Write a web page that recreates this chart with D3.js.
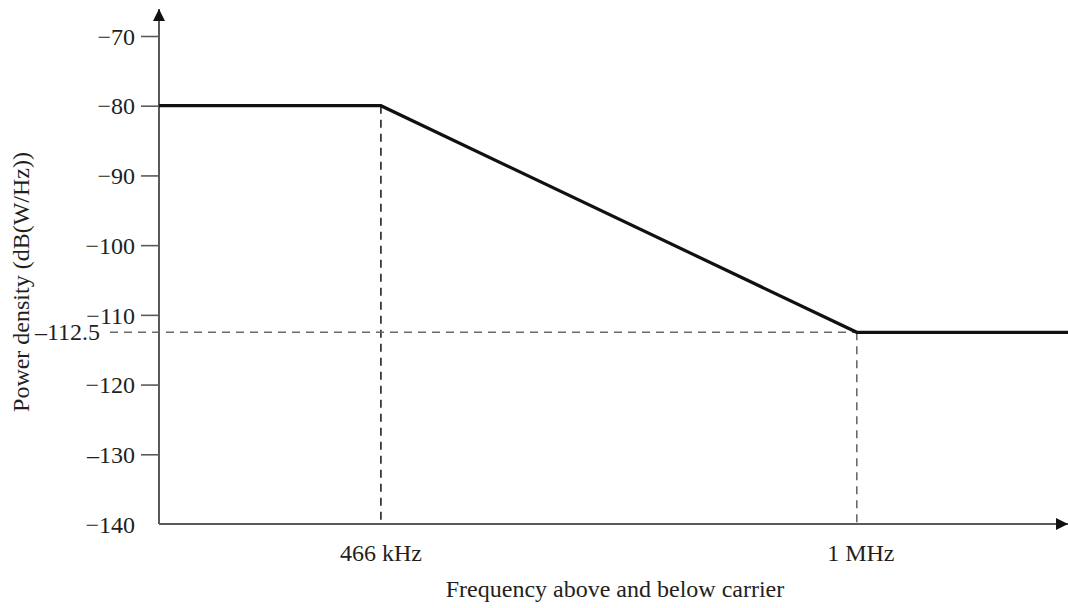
<!DOCTYPE html>
<html>
<head>
<meta charset="utf-8">
<script src="https://cdn.jsdelivr.net/npm/d3@7"></script>
<style>
  html, body { margin: 0; padding: 0; background: #fff; }
  svg { display: block; }
  text { font-family: "Liberation Serif", "Times New Roman", serif; fill: #231f20; }
</style>
</head>
<body>
<svg id="chart" width="1068" height="608"></svg>
<script>
// Spectrum mask: power density vs. offset from carrier
const freqKHz = [217, 466, 1000, 1237];          // breakpoints along the frequency axis
const powerDb = [-80, -80, -112.5, -112.5];      // mask level at each breakpoint
const yTicks = [-70, -80, -90, -100, -110, -120, -130, -140];
const yTickLabels = ["\u221270", "\u221280", "\u221290", "\u2212100", "\u2212110", "\u2212120", "\u2013130", "\u2212140"];
const xMarks = [466, 1000];
const xMarkLabels = ["466 kHz", "1 MHz"];
const cornerLevel = -112.5;
const cornerLabel = "\u2013112.5";

const svg = d3.select("#chart");
const x = d3.scaleLinear().domain([217, 1237]).range([159, 1068]);
const y = d3.scaleLinear().domain([-140, -70]).range([524, 36]);

const axisColor = "#5a5a5a";
const fontSize = 24;

// arrowheads
const defs = svg.append("defs");
defs.append("marker")
  .attr("id", "arrow").attr("viewBox", "0 0 10 10")
  .attr("refX", 10).attr("refY", 5)
  .attr("markerWidth", 12).attr("markerHeight", 12)
  .attr("markerUnits", "userSpaceOnUse")
  .attr("orient", "auto")
  .append("path").attr("d", "M0,0L10,5L0,10Z").attr("fill", "#111");

// reference dashes
const dash = svg.append("g").attr("fill", "none").attr("stroke-width", 1.6);
dash.append("line")
  .attr("x1", x(xMarks[0])).attr("x2", x(xMarks[0]))
  .attr("y1", y(powerDb[1])).attr("y2", y(-140))
  .attr("stroke", "#222").attr("stroke-dasharray", "8,6");
dash.append("line")
  .attr("x1", x(xMarks[1])).attr("x2", x(xMarks[1]))
  .attr("y1", y(cornerLevel)).attr("y2", y(-140))
  .attr("stroke", "#6a6a6a").attr("stroke-dasharray", "8,6");
dash.append("line")
  .attr("x1", 110).attr("x2", x(xMarks[1]))
  .attr("y1", y(cornerLevel)).attr("y2", y(cornerLevel))
  .attr("stroke", "#6a6a6a").attr("stroke-dasharray", "8,6");

// y axis
const yAxis = d3.axisLeft(y)
  .tickValues(yTicks)
  .tickFormat((d, i) => yTickLabels[i])
  .tickSize(18).tickPadding(6);
const gy = svg.append("g").attr("transform", "translate(159,0)").call(yAxis);
gy.select(".domain").remove();
gy.selectAll(".tick line").attr("stroke", axisColor).attr("stroke-width", 1.6)
  .filter(d => d === -140).remove();
gy.selectAll(".tick text").attr("font-size", fontSize)
  .attr("font-family", "Liberation Serif, serif").attr("fill", "#231f20")
  .attr("dy", "0.34em");

// axis lines with arrows
svg.append("line")
  .attr("x1", 159).attr("x2", 159).attr("y1", y(-140)).attr("y2", 9)
  .attr("stroke", axisColor).attr("stroke-width", 2).attr("marker-end", "url(#arrow)");
svg.append("line")
  .attr("x1", 159).attr("x2", 1068).attr("y1", y(-140)).attr("y2", y(-140))
  .attr("stroke", axisColor).attr("stroke-width", 2).attr("marker-end", "url(#arrow)");

// x labels
svg.append("g").selectAll("text").data(xMarks).join("text")
  .attr("x", d => x(d) + (d === 1000 ? 4 : 0)).attr("y", 561)
  .attr("text-anchor", "middle").attr("font-size", fontSize)
  .text((d, i) => xMarkLabels[i]);

// corner level label
svg.append("text")
  .attr("x", 100).attr("y", y(cornerLevel)).attr("dy", "0.34em")
  .attr("text-anchor", "end").attr("font-size", fontSize)
  .text(cornerLabel);

// mask curve
const line = d3.line().x((d, i) => x(freqKHz[i])).y(d => y(d));
svg.append("path")
  .datum(powerDb)
  .attr("d", line)
  .attr("fill", "none").attr("stroke", "#111").attr("stroke-width", 3.2)
  .attr("stroke-linejoin", "miter");

// axis titles
svg.append("text")
  .attr("x", 615).attr("y", 597).attr("text-anchor", "middle").attr("font-size", fontSize)
  .text("Frequency above and below carrier");
svg.append("text")
  .attr("transform", "translate(29,282) rotate(-90)")
  .attr("text-anchor", "middle").attr("font-size", fontSize)
  .text("Power density (dB(W/Hz))");
</script>
</body>
</html>
